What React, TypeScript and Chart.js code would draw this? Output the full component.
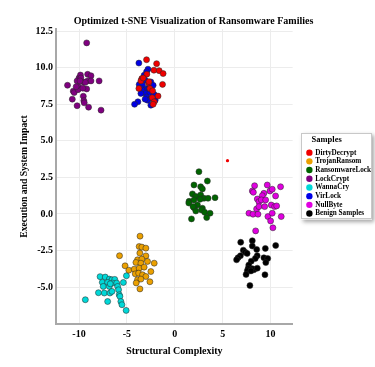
import React, { useEffect, useRef } from "react";
import { Chart, registerables } from "chart.js";

Chart.register(...registerables);

const TITLE = "Optimized t-SNE Visualization of Ransomware Families";
const X_LABEL = "Structural Complexity";
const Y_LABEL = "Execution and System Impact";
const LEGEND_TITLE = "Samples";
const X_TICKS = [-10, -5, 0, 5, 10];
const Y_TICKS = [-5, -2.5, 0, 2.5, 5, 7.5, 10, 12.5];

const SERIES_NAMES = ["DirtyDecrypt", "TrojanRansom", "RansomwareLock", "LockCrypt", "WannaCry", "VirLock", "NullByte", "Benign Samples"];
const SERIES_COLORS = ["#f00000", "#eba000", "#006400", "#800080", "#00d8d8", "#0000e6", "#e000e0", "#000000"];

const dirtyDecrypt = [[-2.95,10.55],[-1.9,10.28],[-2.18,9.83],[-1.63,9.8],[-1.22,9.6],[-2.92,9.56],[-3.44,9.26],[-3.54,9.1],[-2.74,8.95],[-1.28,8.86],[-3.75,8.58],[-2.6,8.58],[-2.32,8.42],[-1.75,8.06],[-2.36,7.95],[-2.15,7.67],[-2.26,7.5],[-2.7,9.05],[-3.3,9.3]];
const trojanRansom = [[-3.63,-1.52],[-3.72,-2.23],[-3.44,-2.27],[-3.02,-2.34],[-5.77,-2.86],[-3.65,-2.68],[-3.02,-2.87],[-3.89,-3.14],[-3.44,-3.09],[-2.85,-3.25],[-2.15,-3.37],[-4.06,-3.32],[-3.54,-3.37],[-5.19,-3.55],[-4.8,-3.85],[-4.24,-3.78],[-3.72,-3.71],[-3.2,-3.64],[-2.5,-3.94],[-4.13,-4.1],[-3.78,-4.05],[-3.37,-4.16],[-3.02,-4.28],[-3.89,-4.5],[-3.54,-4.46],[-2.6,-4.64],[-4.03,-4.72],[-3.64,-5.13]];
const ransomwareLock = [[2.52,2.89],[3.4,2.25],[2.0,1.98],[2.7,1.86],[2.88,1.71],[1.84,1.37],[2.19,1.2],[2.7,1.3],[3.05,1.07],[3.47,1.07],[4.2,1.11],[1.49,0.86],[2.0,0.96],[2.64,1.0],[1.46,0.75],[2.36,0.61],[2.88,0.39],[2.0,0.43],[2.19,0.2],[2.78,0.27],[3.12,0.11],[3.68,0.05],[1.74,-0.34],[3.33,-0.25],[1.9,0.5]];
const lockCrypt = [[-9.2,11.7],[-11.2,8.8],[-10.6,8.4],[-10.7,7.85],[-10.2,7.4],[-10.0,9.3],[-9.85,9.5],[-9.1,9.55],[-8.75,9.45],[-7.9,9.1],[-10.2,9.1],[-10.05,8.7],[-9.5,9.0],[-9.1,9.1],[-8.75,9.1],[-10.5,8.3],[-10.1,8.5],[-9.2,8.55],[-9.55,8.05],[-9.5,7.75],[-9.45,7.6],[-9.0,7.3],[-7.7,7.1],[-9.35,9.0],[-9.8,9.3],[-10.3,8.7],[-9.6,8.6],[-9.9,9.1]];
const wannaCry = [[-7.8,-4.29],[-7.26,-4.32],[-6.84,-4.46],[-6.56,-4.5],[-6.27,-4.48],[-7.57,-4.68],[-7.01,-4.69],[-6.49,-4.73],[-6.07,-4.73],[-5.37,-4.69],[-5.05,-4.23],[-7.47,-4.96],[-6.84,-4.96],[-5.97,-4.96],[-5.87,-5.19],[-7.97,-5.39],[-7.36,-5.41],[-6.77,-5.41],[-6.56,-5.3],[-5.8,-5.53],[-5.73,-5.64],[-9.34,-5.87],[-7.01,-5.99],[-5.63,-5.99],[-5.52,-6.21],[-5.08,-6.6],[-6.74,-4.78]];
const virLock = [[-3.75,10.32],[-2.8,9.9],[-2.95,9.72],[-3.2,9.49],[-3.44,9.22],[-3.09,9.15],[-3.72,8.85],[-3.37,8.8],[-2.5,9.03],[-2.26,8.8],[-3.54,8.58],[-3.2,8.46],[-2.85,8.58],[-3.02,8.24],[-2.6,8.3],[-2.15,8.17],[-2.95,8.0],[-2.5,7.9],[-2.85,7.78],[-3.54,8.24],[-3.85,7.67],[-4.2,7.5],[-2.5,7.44],[-2.05,7.78],[-3.1,7.85],[-2.7,8.6]];
const nullByte = [[8.33,1.93],[9.65,1.98],[11.04,1.86],[8.09,1.57],[8.2,1.48],[9.3,1.41],[9.93,1.57],[10.17,1.69],[10.52,1.23],[9.13,1.25],[8.61,1.02],[8.78,0.84],[9.03,0.96],[9.48,0.96],[8.54,0.34],[8.78,0.5],[9.38,0.5],[10.07,0.61],[10.42,0.5],[10.63,0.55],[7.74,0.05],[8.16,-0.02],[8.68,-0.02],[9.72,-0.18],[10.17,0.05],[11.11,-0.18],[10.0,-0.48],[10.24,-0.95],[8.44,-1.16]];
const benignSamples = [[6.88,-1.94],[8.09,-1.83],[8.09,-2.2],[8.55,-2.43],[9.45,-2.36],[10.53,-2.16],[7.15,-2.48],[7.35,-2.62],[7.55,-2.7],[6.85,-2.86],[6.6,-3.0],[6.45,-3.14],[8.6,-2.86],[8.4,-3.05],[9.3,-3.0],[9.7,-3.05],[9.5,-3.33],[7.98,-3.23],[7.72,-3.5],[7.65,-3.74],[8.12,-3.75],[7.57,-3.89],[7.44,-4.14],[8.26,-3.82],[8.61,-3.71],[9.41,-4.16],[7.84,-4.9],[7.95,-3.9]];
const outlierPoints = [[5.5, 3.64]];

const SERIES_DATA = [dirtyDecrypt, trojanRansom, ransomwareLock, lockCrypt, wannaCry, virLock, nullByte, benignSamples];

const FONT = "'Liberation Serif', 'Times New Roman', serif";
const LEGEND_SHIFT_X = 13;
const LEGEND_SHIFT_Y = -9;
const LEGEND_TITLE_SPAN = 42;

const legendPlacePlugin = {
  id: "legendPlace",
  afterLayout(chart: any) {
    const lg = chart.legend;
    if (!lg) return;
    lg.left += LEGEND_SHIFT_X;
    lg.width = LEGEND_TITLE_SPAN;
    lg.right = chart.width;
    lg.top += LEGEND_SHIFT_Y;
    lg.bottom += LEGEND_SHIFT_Y;
  },
  beforeDraw(chart: any) {
    const lg = chart.legend;
    if (!lg || !lg.columnSizes || !lg.columnSizes.length) return;
    const titleH = lg._computeTitleHeight();
    const pad = lg.options.labels.padding;
    const colH = lg.columnSizes[0].height;
    const startY = (lg.top + titleH + pad + lg.bottom - colH) / 2;
    const x0 = lg.left - 5;
    const x1 = chart.width - 3;
    const y0 = startY - titleH - pad - 2;
    const y1 = startY + colH + 1;
    const ctx = chart.ctx;
    ctx.save();
    ctx.shadowColor = "rgba(0,0,0,0.35)";
    ctx.shadowBlur = 4;
    ctx.shadowOffsetX = 2;
    ctx.shadowOffsetY = 2;
    ctx.fillStyle = "#ffffff";
    ctx.fillRect(x0, y0, x1 - x0, y1 - y0);
    ctx.restore();
    ctx.save();
    ctx.strokeStyle = "#c8c8c8";
    ctx.lineWidth = 1;
    ctx.strokeRect(Math.round(x0) + 0.5, Math.round(y0) + 0.5, Math.round(x1 - x0) - 1, Math.round(y1 - y0) - 1);
    ctx.restore();
  },
};

export default function App() {
  const ref = useRef<HTMLCanvasElement>(null);
  useEffect(() => {
    if (!ref.current) return;
    const datasets: any[] = SERIES_NAMES.map((name, i) => ({
      label: name,
      data: SERIES_DATA[i].map(([x, y]) => ({ x, y })),
      backgroundColor: SERIES_COLORS[i],
      borderColor: "rgba(40,40,40,0.75)",
      borderWidth: 0.7,
      pointRadius: 3,
    }));
    datasets.push({
      label: "_outlier",
      data: outlierPoints.map(([x, y]) => ({ x, y })),
      backgroundColor: SERIES_COLORS[0],
      borderWidth: 0,
      pointRadius: 1.6,
    });
    const chart = new Chart(ref.current, {
      type: "scatter",
      data: { datasets },
      plugins: [legendPlacePlugin],
      options: {
        animation: false,
        responsive: true,
        maintainAspectRatio: false,
        layout: { padding: { top: 15, left: 19, right: 7, bottom: 10 } },
        plugins: {
          title: {
            display: true,
            text: TITLE,
            color: "#000",
            font: { family: FONT, size: 10, weight: "bold" },
            padding: { top: 0, bottom: 2 },
          },
          legend: {
            position: "right",
            title: {
              display: true,
              text: LEGEND_TITLE,
              color: "#000",
              font: { family: FONT, size: 8.5, weight: "bold" },
              padding: { top: 0, bottom: 2 },
            },
            labels: {
              usePointStyle: true,
              pointStyle: "circle",
              boxWidth: 4.5,
              boxHeight: 4.5,
              padding: 1.5,
              color: "#000",
              font: { family: FONT, size: 7.2, weight: "bold" },
              filter: (item: any) => !String(item.text).startsWith("_"),
              generateLabels: (chart: any) =>
                chart.data.datasets.map((ds: any, i: number) => ({
                  text: ds.label,
                  fillStyle: ds.backgroundColor,
                  strokeStyle: ds.backgroundColor,
                  lineWidth: 0,
                  pointStyle: "circle",
                  hidden: false,
                  datasetIndex: i,
                  fontColor: "#000",
                })),
            },
          },
          tooltip: { enabled: false },
        },
        scales: {
          x: {
            type: "linear",
            min: -12.4,
            max: 12.3,
            afterBuildTicks: (scale: any) => {
              scale.ticks = X_TICKS.map((v) => ({ value: v }));
            },
            ticks: {
              color: "#000",
              padding: 4,
              font: { family: FONT, size: 10, weight: "bold" },
              callback: (v: any) => String(v),
            },
            grid: { color: "#ececec", drawTicks: false },
            border: { color: "#a8a8a8", width: 2 },
            title: {
              display: true,
              text: X_LABEL,
              color: "#000",
              font: { family: FONT, size: 10, weight: "bold" },
              padding: { top: 1, bottom: 0 },
            },
          },
          y: {
            type: "linear",
            min: -7.53,
            max: 12.65,
            afterBuildTicks: (scale: any) => {
              scale.ticks = Y_TICKS.map((v) => ({ value: v }));
            },
            ticks: {
              color: "#000",
              padding: 3,
              font: { family: FONT, size: 10, weight: "bold" },
              callback: (v: any) => Number(v).toFixed(1),
            },
            grid: { color: "#ececec", drawTicks: false },
            border: { color: "#a8a8a8", width: 2 },
            title: {
              display: true,
              text: Y_LABEL,
              color: "#000",
              font: { family: FONT, size: 9.6, weight: "bold" },
              padding: { top: 0, bottom: 2 },
            },
          },
        },
      },
    });
    return () => chart.destroy();
  }, []);
  return (
    <div style={{ position: "absolute", left: 0, top: 0, width: 375, height: 367, background: "#fff" }}>
      <canvas ref={ref} />
    </div>
  );
}
